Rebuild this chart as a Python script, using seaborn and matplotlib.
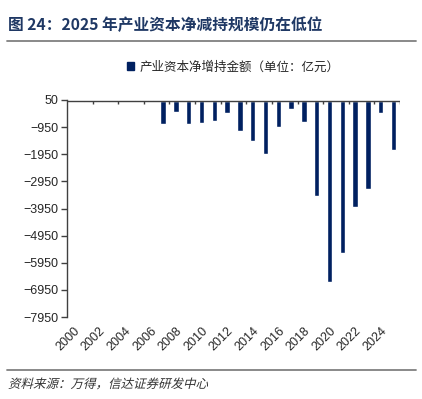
"""
Industrial capital net increase/decrease of holdings, 2000-2025.
"""

import matplotlib
matplotlib.use("Agg")
import matplotlib.pyplot as plt
from matplotlib.patches import Patch, PathPatch
from matplotlib.textpath import TextPath
from matplotlib.font_manager import FontProperties
from matplotlib.transforms import Affine2D
import numpy as np
import pandas as pd
import seaborn as sns

NAVY = "#002060"
TITLE_NAVY = "#1f3864"
GRAY = "#808080"
DPI = 100

years = [str(y) for y in range(2000, 2026)]
net_change = [0, -10, -20, -15, 10, 45, 40, -845, -402, -845,
              -786, -740, -417, -1081, -1450, -1930, -945, -292, -760, -3480,
              -6650, -5590, -3900, -3220, -440, -1790]
yticks = list(range(50, -8000, -1000))
xtick_labels = years[::2]
legend_label = "产业资本净增持金额（单位：亿元）"
title = "图 24：2025 年产业资本净减持规模仍在低位"
source = "资料来源：万得，信达证券研发中心"

sns.set_style("white")
plt.rcParams["font.family"] = ["Liberation Sans", "Noto Sans CJK SC", "DejaVu Sans"]

df = pd.DataFrame({"year": years, "value": net_change})

fig = plt.figure(figsize=(4.22, 3.99), dpi=DPI)
ax = fig.add_axes([67 / 422, 1 - 317 / 399, 333 / 422, 217 / 399])

sns.barplot(data=df, x="year", y="value", color=NAVY, width=0.42,
            saturation=1, ax=ax)

ax.set_xlim(-0.5, len(years) - 0.5)
ax.set_ylim(-7950, 50)
ax.set_yticks(yticks)
ax.set_yticklabels([f"{t}".replace("-", "\u2212") for t in yticks], fontsize=9)
ax.set_xticks(range(0, len(years), 2))
ax.set_xticklabels(xtick_labels, rotation=45, ha="right",
                   rotation_mode="anchor", fontsize=9)
ax.tick_params(axis="x", length=0, pad=6)
ax.tick_params(axis="y", length=4, width=1, color="#404040", direction="out",
               left=True, pad=2)
ax.set_xlabel("")
ax.set_ylabel("")

for side in ["top", "right", "bottom"]:
    ax.spines[side].set_visible(False)
ax.spines["left"].set_color("#404040")
ax.spines["left"].set_linewidth(1)

# category axis drawn at zero, with tick marks between every second category
ax.axhline(0, color="#404040", linewidth=1, zorder=3)
ax.vlines(np.arange(1.5, len(years), 2), -110, 0, color="#404040",
          linewidth=1, zorder=3)

ax.legend(handles=[Patch(color=NAVY, label=legend_label)],
          loc="lower center", bbox_to_anchor=(0.5, 1.07), frameon=False,
          handlelength=0.55, handleheight=0.55, handletextpad=0.5,
          prop={"family": ["Noto Sans CJK SC"], "size": 9})

fig.text(8 / 422, 1 - 25 / 399, title, fontsize=11.3, fontweight="bold",
         color=TITLE_NAVY, va="center", ha="left",
         family=["Noto Sans CJK SC", "DejaVu Sans"])
fig.add_artist(plt.Line2D([7 / 422, 416 / 422], [1 - 41 / 399] * 2,
                          color=GRAY, linewidth=1.3))
fig.add_artist(plt.Line2D([7 / 422, 416 / 422], [1 - 370 / 399] * 2,
                          color=GRAY, linewidth=1.3))

# italic source note: CJK font has no italic, so slant the glyph outlines
tp = TextPath((0, 0), source, size=9,
              prop=FontProperties(family="Noto Sans CJK SC"))
slant = (Affine2D().scale(DPI / 72).skew_deg(14, 0)
         .translate(8, 399 - 388))
fig.add_artist(PathPatch(tp, transform=slant, color="#333333", lw=0))

plt.savefig("out.png", dpi=DPI)
plt.close()
